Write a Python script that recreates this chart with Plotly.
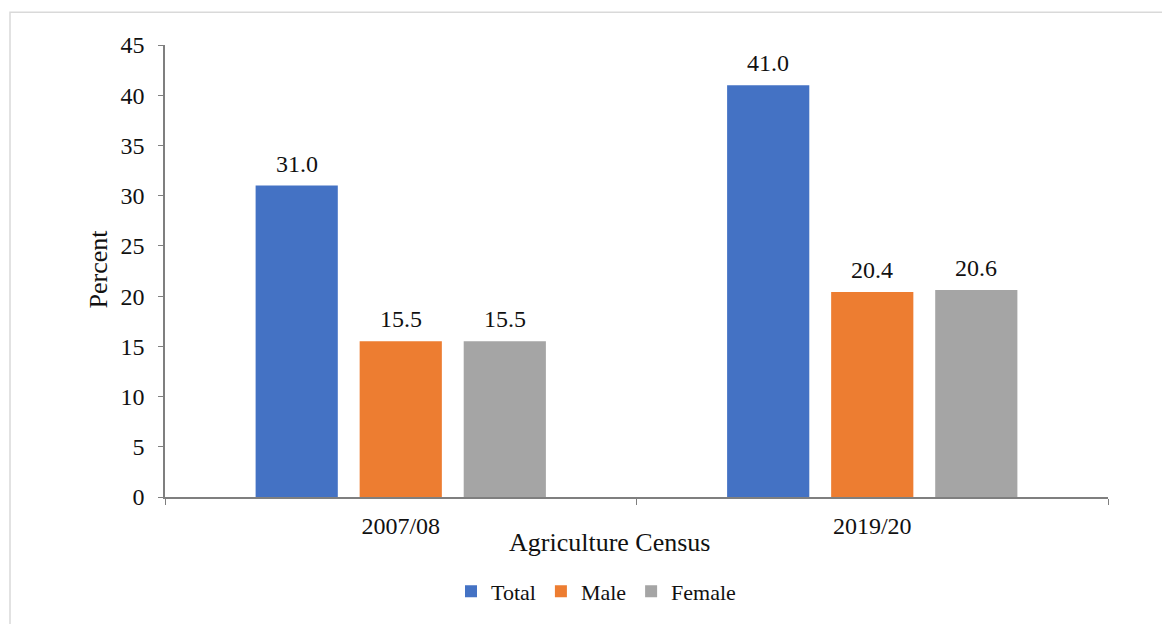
import plotly.graph_objects as go

categories = ["2007/08", "2019/20"]
total = [31.0, 41.0]
male = [15.5, 20.4]
female = [15.5, 20.6]
series_names = ["Total", "Male", "Female"]
colors = ["#4472C4", "#ED7D31", "#A5A5A5"]

font = "Liberation Serif"
BARGAP = 0.338
fig = go.Figure()
all_vals = [total, male, female]
for name, vals, col in zip(series_names, all_vals, colors):
    fig.add_trace(go.Bar(
        x=categories, y=vals, name=name, marker=dict(color=col, line=dict(width=0)),
    ))

W, H = 1162, 624
L, R, T, B = 165, 54, 45, 124
pw, ph = W - L - R, H - T - B

def px(x):
    return (x - L) / pw

def py(y):
    return (H - B - y) / ph

slot = (1 - BARGAP) / len(series_names)
for k, vals in enumerate(all_vals):
    for i, v in enumerate(vals):
        fig.add_annotation(x=i + (k - 1) * slot, y=v, text=f"{v:.1f}", showarrow=False,
                           yshift=22, yanchor="middle", xanchor="center",
                           font=dict(family=font, size=24, color="#111"))

fig.update_layout(
    width=W, height=H,
    margin=dict(l=L, r=R, t=T, b=B),
    paper_bgcolor="white", plot_bgcolor="white",
    barmode="group", bargap=BARGAP, bargroupgap=0.21,
    font=dict(family=font, size=23, color="#111"),
    showlegend=True,
    legend=dict(orientation="h", x=px(596), xanchor="center", y=py(595), yanchor="middle",
                font=dict(family=font, size=22, color="#111"), itemwidth=30,
                traceorder="normal"),
    xaxis=dict(showline=True, linecolor="#7f7f7f", linewidth=1.5, ticks="outside",
               tickson="boundaries", ticklen=6, tickcolor="#7f7f7f", showgrid=False,
               ticklabelstandoff=6,
               tickfont=dict(family=font, size=24, color="#111")),
    yaxis=dict(range=[0, 45], dtick=5, showline=True, linecolor="#7f7f7f", linewidth=1.5,
               ticks="outside", ticklen=5, tickcolor="#7f7f7f", showgrid=False, zeroline=False,
               ticklabelstandoff=9,
               tickfont=dict(family=font, size=24, color="#111")),
)
fig.add_annotation(text="Percent", xref="paper", yref="paper", textangle=-90,
                   x=px(99), y=py(271), xanchor="center", yanchor="middle",
                   showarrow=False, font=dict(family=font, size=26, color="#111"))
fig.add_annotation(text="Agriculture Census", xref="paper", yref="paper",
                   x=px(609), y=py(546), xanchor="center", yanchor="middle",
                   showarrow=False, font=dict(family=font, size=26, color="#111"))
fig.add_shape(type="rect", xref="paper", yref="paper",
              x0=px(10), x1=px(1175), y0=py(12), y1=py(640),
              line=dict(color="#d9d9d9", width=1.5), fillcolor="rgba(0,0,0,0)", layer="below")
fig.write_html("out.html", config={"displayModeBar": False},
               post_script="document.body.style.margin='0';document.body.style.overflow='hidden';")
